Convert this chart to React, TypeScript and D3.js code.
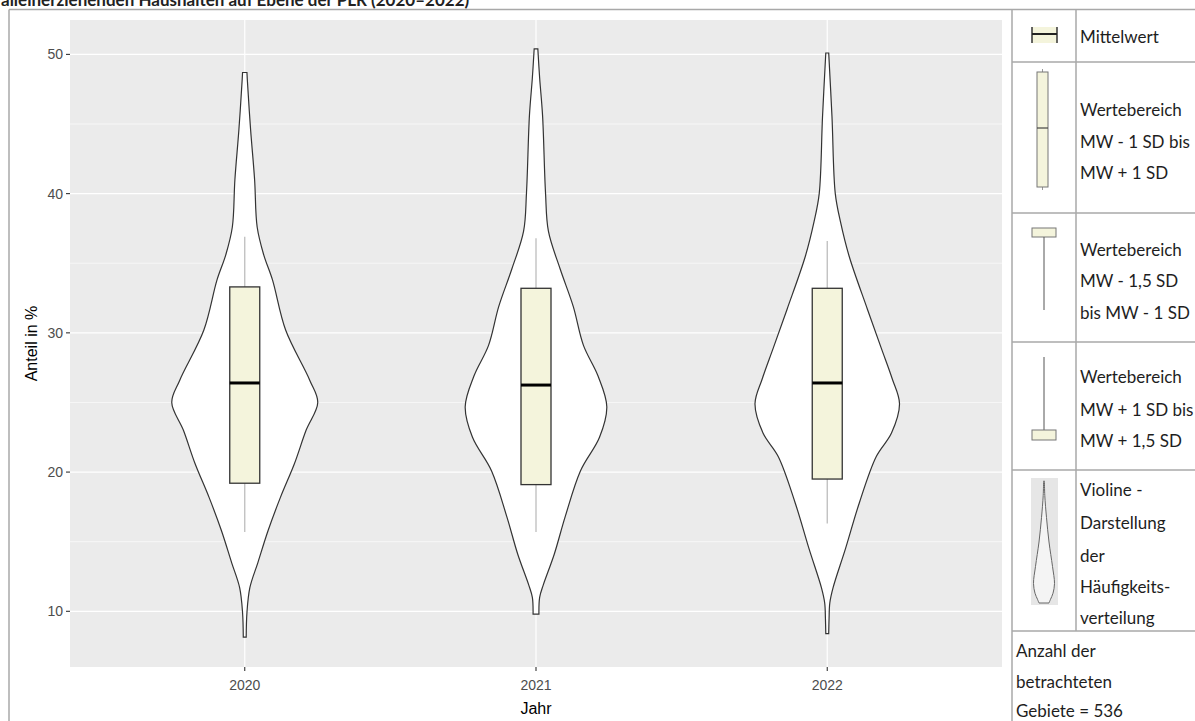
import React, { useEffect, useRef } from 'react';
import * as d3 from 'd3';

// Kategorien (x-Achse)
const years = ['2020', '2021', '2022'];

const violin2020: [number, number][] = [
  [48.7, 0.03], [48.2, 0.035], [44.6, 0.08], [41.0, 0.135], [37.6, 0.17], [35.6, 0.26],
  [33.8, 0.38], [30.2, 0.56], [26.6, 0.89], [25.0, 1.0], [23.0, 0.84], [20.6, 0.68],
  [18.2, 0.49], [15.8, 0.32], [13.5, 0.18], [11.7, 0.07], [9.9, 0.03], [8.15, 0.02],
];
const violin2021: [number, number][] = [
  [50.4, 0.025], [48.3, 0.05], [45.6, 0.09], [40.1, 0.13], [37.3, 0.17], [34.6, 0.33],
  [31.9, 0.51], [29.1, 0.65], [26.9, 0.85], [24.7, 0.97], [22.5, 0.87], [20.1, 0.61],
  [16.8, 0.4], [14.1, 0.25], [11.9, 0.1], [11.0, 0.05], [9.8, 0.04],
];
const violin2022: [number, number][] = [
  [50.1, 0.02], [45.5, 0.065], [40.0, 0.11], [38.0, 0.18], [35.5, 0.3], [31.7, 0.55],
  [28.9, 0.74], [26.7, 0.89], [24.9, 0.99], [22.8, 0.88], [21.1, 0.67], [17.8, 0.44],
  [14.5, 0.25], [11.7, 0.08], [10.6, 0.035], [9.5, 0.025], [8.4, 0.02],
];
const violins = [violin2020, violin2021, violin2022];

// Mittelwert, MW ± 1 SD, MW ± 1,5 SD
const means = [26.4, 26.25, 26.4];
const sdLow = [19.2, 19.1, 19.5];
const sdHigh = [33.3, 33.2, 33.2];
const whiskLow = [15.7, 15.7, 16.3];
const whiskHigh = [36.9, 36.8, 36.6];

const yTicks = [10, 20, 30, 40, 50];
const yMinor = [15, 25, 35, 45];

const title = 'alleinerziehenden Haushalten auf Ebene der PLR (2020–2022)';

const legendRows = [
  ['Mittelwert'],
  ['Wertebereich', 'MW - 1 SD bis', 'MW + 1 SD'],
  ['Wertebereich', 'MW - 1,5 SD', 'bis MW - 1 SD'],
  ['Wertebereich', 'MW + 1 SD bis', 'MW + 1,5 SD'],
  ['Violine -', 'Darstellung', 'der', 'Häufigkeits-', 'verteilung'],
];
const footerLines = ['Anzahl der', 'betrachteten', 'Gebiete = 536'];

const W = 1195;
const H = 721;
const panel = { left: 70, right: 1002, top: 20, bottom: 667 };
const beige = '#f4f4dc';
const legendFont = 'Lato, "Noto Sans", sans-serif';
const axisFont = '"Liberation Sans", Arial, sans-serif';

const App: React.FC = () => {
  const svgRef = useRef<SVGSVGElement>(null);

  useEffect(() => {
    document.body.style.margin = '0';
    if (!svgRef.current) return;
    const svg = d3.select(svgRef.current).attr('width', W).attr('height', H);
    svg.selectAll('*').remove();

    svg.append('rect').attr('width', W).attr('height', H).attr('fill', '#fff');

    // title (cut off at the top edge, as in the source)
    svg.append('text')
      .attr('x', 1).attr('y', 6)
      .attr('font-family', legendFont).attr('font-size', 17).attr('font-weight', 700)
      .attr('fill', '#222')
      .text(title);

    const x = d3.scalePoint<string>().domain(years).range([panel.left, panel.right]).padding(0.6);
    const y = d3.scaleLinear().domain([6.0, 52.47]).range([panel.bottom, panel.top]);
    const w = d3.scaleLinear().domain([0, 1]).range([0, 73]);

    // panel
    svg.append('rect')
      .attr('x', panel.left).attr('y', panel.top)
      .attr('width', panel.right - panel.left).attr('height', panel.bottom - panel.top)
      .attr('fill', '#ebebeb');

    svg.append('g').selectAll('line').data(yMinor).enter().append('line')
      .attr('x1', panel.left).attr('x2', panel.right)
      .attr('y1', d => y(d)).attr('y2', d => y(d))
      .attr('stroke', '#fff').attr('stroke-width', 0.6);
    svg.append('g').selectAll('line').data(yTicks).enter().append('line')
      .attr('x1', panel.left).attr('x2', panel.right)
      .attr('y1', d => y(d)).attr('y2', d => y(d))
      .attr('stroke', '#fff').attr('stroke-width', 1.2);
    svg.append('g').selectAll('line').data(years).enter().append('line')
      .attr('x1', d => x(d)!).attr('x2', d => x(d)!)
      .attr('y1', panel.top).attr('y2', panel.bottom)
      .attr('stroke', '#fff').attr('stroke-width', 1.2);

    // violins
    years.forEach((yr, i) => {
      const cx = x(yr)!;
      const area = d3.area<[number, number]>()
        .y(d => y(d[0]))
        .x0(d => cx - w(d[1]))
        .x1(d => cx + w(d[1]))
        .curve(d3.curveCatmullRom.alpha(0.5));
      svg.append('path')
        .attr('d', area(violins[i]))
        .attr('fill', '#fff')
        .attr('stroke', '#333')
        .attr('stroke-width', 1.2);
    });

    // whiskers
    svg.append('g').selectAll('line').data(years).enter().append('line')
      .attr('x1', d => x(d)!).attr('x2', d => x(d)!)
      .attr('y1', (d, i) => y(whiskHigh[i])).attr('y2', (d, i) => y(whiskLow[i]))
      .attr('stroke', '#bdbdbd').attr('stroke-width', 1.3);

    // boxes
    const bw = 30;
    svg.append('g').selectAll('rect').data(years).enter().append('rect')
      .attr('x', d => x(d)! - bw / 2)
      .attr('y', (d, i) => y(sdHigh[i]))
      .attr('width', bw)
      .attr('height', (d, i) => y(sdLow[i]) - y(sdHigh[i]))
      .attr('fill', beige).attr('stroke', '#333').attr('stroke-width', 1.3);
    svg.append('g').selectAll('line').data(years).enter().append('line')
      .attr('x1', d => x(d)! - bw / 2).attr('x2', d => x(d)! + bw / 2)
      .attr('y1', (d, i) => y(means[i])).attr('y2', (d, i) => y(means[i]))
      .attr('stroke', '#000').attr('stroke-width', 3);

    // y axis
    const yAxis = svg.append('g');
    yAxis.selectAll('line').data(yTicks).enter().append('line')
      .attr('x1', panel.left - 4).attr('x2', panel.left)
      .attr('y1', d => y(d)).attr('y2', d => y(d))
      .attr('stroke', '#333').attr('stroke-width', 1.1);
    yAxis.selectAll('text').data(yTicks).enter().append('text')
      .attr('x', panel.left - 7).attr('y', d => y(d)).attr('dy', '0.35em')
      .attr('text-anchor', 'end')
      .attr('font-family', axisFont).attr('font-size', 14).attr('fill', '#4d4d4d')
      .text(d => d);
    svg.append('text')
      .attr('transform', `translate(37, ${(panel.top + panel.bottom) / 2}) rotate(-90)`)
      .attr('text-anchor', 'middle')
      .attr('font-family', axisFont).attr('font-size', 16).attr('fill', '#000')
      .text('Anteil in %');

    // x axis
    const xAxis = svg.append('g');
    xAxis.selectAll('line').data(years).enter().append('line')
      .attr('x1', d => x(d)!).attr('x2', d => x(d)!)
      .attr('y1', panel.bottom).attr('y2', panel.bottom + 4)
      .attr('stroke', '#333').attr('stroke-width', 1.1);
    xAxis.selectAll('text').data(years).enter().append('text')
      .attr('x', d => x(d)!).attr('y', panel.bottom + 18).attr('dy', '0.35em')
      .attr('text-anchor', 'middle')
      .attr('font-family', axisFont).attr('font-size', 14).attr('fill', '#4d4d4d')
      .text(d => d);
    svg.append('text')
      .attr('x', (panel.left + panel.right) / 2).attr('y', 708).attr('dy', '0.35em')
      .attr('text-anchor', 'middle')
      .attr('font-family', axisFont).attr('font-size', 16).attr('fill', '#000')
      .text('Jahr');

    // frame + legend table
    const lineCol = '#a8a8a8';
    const g = svg.append('g').attr('stroke', lineCol).attr('stroke-width', 1.5).attr('fill', 'none');
    g.append('line').attr('x1', 9).attr('x2', W).attr('y1', 9.5).attr('y2', 9.5);
    g.append('line').attr('x1', 9).attr('x2', 9).attr('y1', 9.5).attr('y2', H);
    const tableLeft = 1012;
    const colDiv = 1076;
    const rowBounds = [9.5, 62, 213, 342, 470, 631];
    g.append('line').attr('x1', tableLeft).attr('x2', tableLeft).attr('y1', 9.5).attr('y2', H);
    g.append('line').attr('x1', colDiv).attr('x2', colDiv).attr('y1', 9.5).attr('y2', 631);
    rowBounds.slice(1).forEach(b => {
      g.append('line').attr('x1', tableLeft).attr('x2', W).attr('y1', b).attr('y2', b);
    });

    const textX = 1080;
    const rowCenters = [[37], [110, 142, 173], [250, 281, 313], [377, 410, 441], [490, 523, 556, 587, 618]];
    legendRows.forEach((lines, r) => {
      lines.forEach((t, k) => {
        svg.append('text')
          .attr('x', textX).attr('y', rowCenters[r][k]).attr('dy', '0.35em')
          .attr('font-family', legendFont).attr('font-size', 17).attr('fill', '#1e1e1e')
          .text(t);
      });
    });
    const footerY = [651, 682, 711];
    footerLines.forEach((t, k) => {
      svg.append('text')
        .attr('x', 1016).attr('y', footerY[k]).attr('dy', '0.35em')
        .attr('font-family', legendFont).attr('font-size', 17).attr('fill', '#1e1e1e')
        .text(t);
    });

    // legend icons
    const ic = 1044;
    // row 1: Mittelwert
    svg.append('rect').attr('x', 1032).attr('y', 27).attr('width', 25).attr('height', 16).attr('fill', beige);
    svg.append('line').attr('x1', 1032).attr('x2', 1032).attr('y1', 27).attr('y2', 43).attr('stroke', '#333').attr('stroke-width', 1.5);
    svg.append('line').attr('x1', 1057).attr('x2', 1057).attr('y1', 27).attr('y2', 43).attr('stroke', '#333').attr('stroke-width', 1.5);
    svg.append('line').attr('x1', 1032).attr('x2', 1057).attr('y1', 34).attr('y2', 34).attr('stroke', '#222').attr('stroke-width', 2);
    // row 2: box
    svg.append('line').attr('x1', ic - 1.5).attr('x2', ic - 1.5).attr('y1', 69).attr('y2', 190).attr('stroke', '#999').attr('stroke-width', 1);
    svg.append('rect').attr('x', 1037).attr('y', 72).attr('width', 11).attr('height', 115)
      .attr('fill', beige).attr('stroke', '#777').attr('stroke-width', 1);
    svg.append('line').attr('x1', 1037).attr('x2', 1048).attr('y1', 128).attr('y2', 128).attr('stroke', '#444').attr('stroke-width', 1.2);
    // row 3
    svg.append('rect').attr('x', 1032).attr('y', 228).attr('width', 24).attr('height', 9)
      .attr('fill', beige).attr('stroke', '#777').attr('stroke-width', 1);
    svg.append('line').attr('x1', ic).attr('x2', ic).attr('y1', 237).attr('y2', 310).attr('stroke', '#555').attr('stroke-width', 1);
    // row 4
    svg.append('line').attr('x1', ic).attr('x2', ic).attr('y1', 357).attr('y2', 430).attr('stroke', '#555').attr('stroke-width', 1);
    svg.append('rect').attr('x', 1032).attr('y', 430).attr('width', 24).attr('height', 10)
      .attr('fill', beige).attr('stroke', '#777').attr('stroke-width', 1);
    // row 5: violin icon
    svg.append('rect').attr('x', 1031).attr('y', 478).attr('width', 27).attr('height', 127).attr('fill', '#e6e6e6');
    const iconShape: [number, number][] = [
      [0, 0.4], [0.12, 0.8], [0.3, 2.5], [0.5, 5], [0.7, 8.5], [0.84, 10.5], [0.92, 9], [0.97, 6.5], [1, 5],
    ];
    const iy = d3.scaleLinear().domain([0, 1]).range([481, 603]);
    const iconArea = d3.area<[number, number]>()
      .y(d => iy(d[0])).x0(d => ic - d[1]).x1(d => ic + d[1])
      .curve(d3.curveCatmullRom.alpha(0.5));
    svg.append('path').attr('d', iconArea(iconShape))
      .attr('fill', '#f4f4f4').attr('stroke', '#666').attr('stroke-width', 1);
  }, []);

  return <svg ref={svgRef} style={{ display: 'block' }} />;
};

export default App;
